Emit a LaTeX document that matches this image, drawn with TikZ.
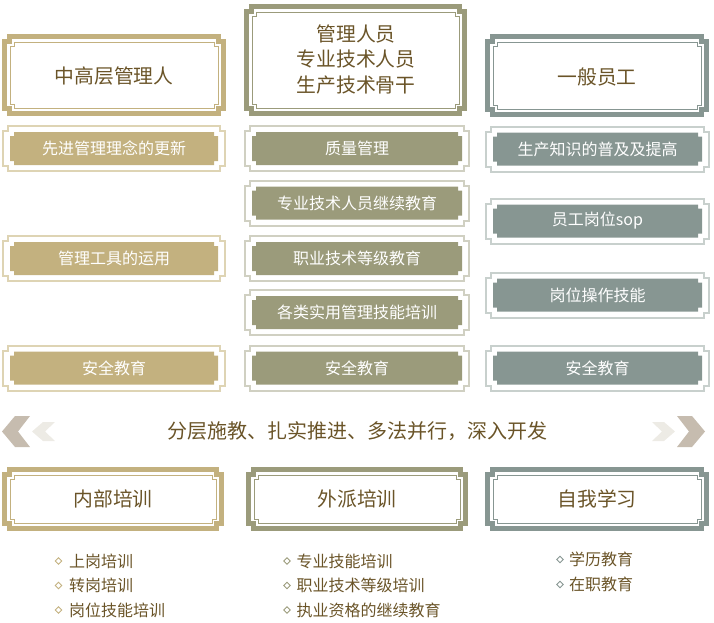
\documentclass[tikz,border=0pt]{standalone}
\usepackage{fontspec}
\setmainfont{Noto Sans CJK SC}
\usetikzlibrary{shapes.geometric}

\definecolor{goldbase}{HTML}{C3B17F}
\definecolor{goldlight}{HTML}{DED4B4}
\definecolor{olivebase}{HTML}{9B9B7B}
\definecolor{olivelight}{HTML}{D0D0C2}
\definecolor{greybase}{HTML}{879692}
\definecolor{greylight}{HTML}{C8D0CD}
\definecolor{textbrown}{HTML}{6A5428}
\definecolor{chevdark}{HTML}{C6BCAF}
\definecolor{chevlight}{HTML}{EDEBE5}

% notched rectangle: x1 y1 x2 y2 notch
\newcommand{\tiernotch}[5]{(#1+#5,#2) -- (#3-#5,#2) -- (#3-#5,#2+#5) -- (#3,#2+#5) -- (#3,#4-#5) -- (#3-#5,#4-#5) -- (#3-#5,#4) -- (#1+#5,#4) -- (#1+#5,#4-#5) -- (#1,#4-#5) -- (#1,#2+#5) -- (#1+#5,#2+#5) -- cycle}
% framed header: x1 y1 x2 y2 colour
\newcommand{\tierhead}[5]{%
  \draw[headframe, draw=#5base] \tiernotch{#1+2.5}{#2+2.5}{#3-2.5}{#4-2.5}{5};
  \draw[headline, draw=#5base] \tiernotch{#1+8}{#2+8}{#3-8}{#4-8}{4};}
% filled item box: x1 x2 yc colour name text
\newcommand{\tierbox}[6]{%
  \draw[subframe, draw=#4light] \tiernotch{#1-7}{#3-22.5}{#2+7}{#3+22.5}{5};
  \fill[#4base] \tiernotch{#1}{#3-16.5}{#2}{#3+16.5}{4};
  \node[subtext] (#5) at ({(#1+#2)/2},#3) {#6};}

\begin{document}
\begin{tikzpicture}[x=1pt, y=-1pt, line join=miter,
    headframe/.style={line width=5pt},
    headline/.style={line width=1pt},
    subframe/.style={line width=2pt},
    headtext/.style={text=textbrown, align=center, font=\fontsize{19.8}{25.5}\selectfont},
    subtext/.style={text=white, font=\fontsize{16}{18}\selectfont},
    itemtext/.style={text=textbrown, anchor=west, inner sep=0pt, font=\fontsize{16}{18}\selectfont},
    bullet/.style={diamond, draw, line width=0.9pt, inner sep=0pt, minimum size=7pt}]
  \useasboundingbox (0,0) rectangle (714,622);
  %%
  % Node: headers
  \tierhead{2}{34}{226}{116}{gold}
  \node[headtext] (lead) at (114,76) {中高层管理人};
  \tierhead{244}{4}{467}{116}{olive}
  \node[headtext] (tech) at (356,59) {管理人员\\专业技术人员\\生产技术骨干};
  \tierhead{485}{34}{709}{117}{grey}
  \node[headtext] (staff) at (597,77) {一般员工};
  %
  % Node: left column
  \tierbox{10}{218}{148.5}{gold}{l1}{先进管理理念的更新\hspace{11pt}}
  \tierbox{10}{218}{258.5}{gold}{l2}{管理工具的运用}
  \tierbox{10}{218}{368}{gold}{l3}{安全教育}
  % Node: middle column
  \tierbox{252}{462}{148.5}{olive}{m1}{质量管理}
  \tierbox{252}{462}{203}{olive}{m2}{专业技术人员继续教育}
  \tierbox{252}{462}{258.5}{olive}{m3}{职业技术等级教育}
  \tierbox{252}{462}{312.5}{olive}{m4}{各类实用管理技能培训}
  \tierbox{252}{462}{368}{olive}{m5}{安全教育}
  % Node: right column
  \tierbox{493}{702}{149}{grey}{r1}{生产知识的普及及提高}
  \tierbox{493}{702}{221}{grey}{r2}{员工岗位sop}
  \tierbox{493}{702}{295}{grey}{r3}{岗位操作技能}
  \tierbox{493}{702}{368}{grey}{r4}{安全教育}
  %
  % motto with chevrons
  \fill[chevdark] (30,416) -- (15,416) -- (2,431.5) -- (15,447) -- (30,447) -- (18,431.5) -- cycle;
  \fill[chevlight] (55,422) -- (43,422) -- (32,431.5) -- (43,441) -- (55,441) -- (45,431.5) -- cycle;
  \fill[chevdark] (677,416) -- (692,416) -- (705,431.5) -- (692,447) -- (677,447) -- (689,431.5) -- cycle;
  \fill[chevlight] (652,422) -- (664,422) -- (675,431.5) -- (664,441) -- (652,441) -- (662,431.5) -- cycle;
  \node[headtext, font=\fontsize{20}{22}\selectfont] (motto) at (357,431) {分层施教、扎实推进、多法并行，深入开发};
  %
  % Node: ways of training
  \tierhead{2}{467}{224}{531}{gold}
  \node[headtext] (inner) at (113,499) {内部培训};
  \tierhead{246}{467}{468}{531}{olive}
  \node[headtext] (outer) at (357,499) {外派培训};
  \tierhead{485}{467}{709}{531}{grey}
  \node[headtext] (self) at (597,499) {自我学习};
  %
  % item lists
  \foreach \y/\txt [count=\i] in {561/上岗培训, 585.5/转岗培训, 610/岗位技能培训}{
    \node[bullet, draw=goldbase] (lb\i) at (58.5,\y) {};
    \node[itemtext] (li\i) at (69,\y) {\txt};
  }
  \foreach \y/\txt [count=\i] in {561/专业技能培训, 585.5/职业技术等级培训, 610/执业资格的继续教育}{
    \node[bullet, draw=olivebase] (mb\i) at (287,\y) {};
    \node[itemtext] (mi\i) at (296.5,\y) {\txt};
  }
  \foreach \y/\txt [count=\i] in {559.5/学历教育, 584.5/在职教育}{
    \node[bullet, draw=greybase] (rb\i) at (560,\y) {};
    \node[itemtext] (ri\i) at (569,\y) {\txt};
  }
  %
\end{tikzpicture}
\end{document}
